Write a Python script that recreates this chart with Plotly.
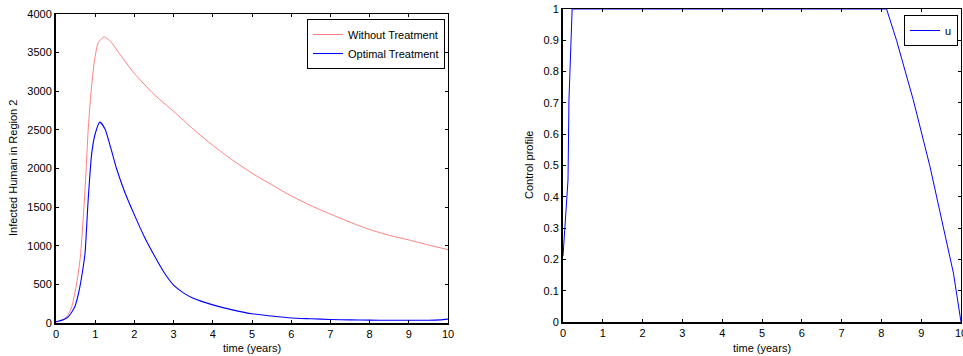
import plotly.graph_objects as go

# ---- data ----
t_without = [0, 0.1, 0.23, 0.31, 0.4, 0.53, 0.62, 0.7, 0.76, 0.82, 0.89, 0.98, 1.08, 1.23, 1.4, 1.6, 2.0, 2.5, 3.0, 3.5, 4.0, 4.5, 5.0, 5.5, 6.0, 6.5, 7.0, 7.5, 8.0, 8.5, 9.0, 9.5, 10]
i_without = [15, 25, 57, 110, 207, 520, 850, 1400, 1900, 2490, 2964, 3394, 3630, 3704, 3640, 3500, 3230, 2960, 2740, 2510, 2300, 2110, 1940, 1790, 1645, 1520, 1410, 1305, 1210, 1135, 1075, 1010, 950]

t_optimal = [0, 0.2, 0.31, 0.4, 0.48, 0.55, 0.61, 0.68, 0.74, 0.82, 0.91, 1.0, 1.12, 1.25, 1.4, 1.55, 1.75, 2.0, 2.25, 2.5, 2.75, 3.0, 3.25, 3.5, 4.0, 4.5, 5.0, 5.5, 6.0, 6.5, 7.0, 7.5, 8.0, 8.5, 9.0, 9.5, 9.8, 10]
i_optimal = [15, 45, 80, 140, 210, 330, 470, 680, 900, 1590, 2190, 2450, 2600, 2510, 2260, 1990, 1700, 1400, 1120, 880, 660, 490, 390, 320, 235, 170, 120, 90, 65, 55, 45, 40, 37, 35, 35, 35, 40, 50]

t_control = [0, 0.04, 0.085, 0.126, 0.15, 0.2, 0.23, 1, 2, 3, 4, 5, 6, 7, 8, 8.13, 8.38, 8.8, 9.22, 9.55, 9.81, 10]
u_control = [0.21, 0.30, 0.40, 0.454, 0.71, 0.90, 1, 1, 1, 1, 1, 1, 1, 1, 1, 1, 0.90, 0.71, 0.497, 0.305, 0.156, 0]

x_ticks = list(range(0, 11))
y1_ticks = list(range(0, 4001, 500))
y2_ticks = [round(0.1 * k, 1) for k in range(11)]

W, H = 963, 356
FONT = dict(family="Arial, Liberation Sans, sans-serif", size=11, color="black")

# plot areas in pixels (left, right, top, bottom)
L1 = (56, 448, 14, 323)
L2 = (563, 961, 9, 322)


def xd(a, b):
    return [a / W, b / W]


def yd(top, bottom):
    return [(H - bottom) / H, (H - top) / H]


fig = go.Figure()
fig.add_trace(go.Scatter(x=t_without, y=i_without, mode="lines", name="Without Treatment",
                         line=dict(color="#ff8080", width=1, shape="spline", smoothing=0.6),
                         xaxis="x", yaxis="y", legend="legend"))
fig.add_trace(go.Scatter(x=t_optimal, y=i_optimal, mode="lines", name="Optimal Treatment",
                         line=dict(color="#0000ff", width=1.1, shape="spline", smoothing=0.6),
                         xaxis="x", yaxis="y", legend="legend"))
fig.add_trace(go.Scatter(x=t_control, y=u_control, mode="lines", name="u",
                         line=dict(color="#0000ff", width=1), xaxis="x2", yaxis="y2", legend="legend2"))
# dummy traces for the mirrored (top/right) box axes
fig.add_trace(go.Scatter(x=[None], y=[None], xaxis="x3", yaxis="y3", showlegend=False, hoverinfo="skip"))
fig.add_trace(go.Scatter(x=[None], y=[None], xaxis="x4", yaxis="y4", showlegend=False, hoverinfo="skip"))

base = dict(showgrid=False, zeroline=False, showline=True, linecolor="black", ticks="inside",
            ticklen=3, tickcolor="black", tickwidth=1, tickfont=FONT, automargin=False)

fig.update_layout(
    width=W, height=H, margin=dict(l=0, r=0, t=0, b=0, autoexpand=False),
    paper_bgcolor="white", plot_bgcolor="white", font=FONT,
    xaxis=dict(base, domain=xd(L1[0], L1[1]), range=[0, 10], tickvals=x_ticks, anchor="y", linewidth=2),
    yaxis=dict(base, domain=yd(L1[2], L1[3]), range=[0, 4000], tickvals=y1_ticks, anchor="x", linewidth=2),
    xaxis2=dict(base, domain=xd(L2[0], L2[1]), range=[0, 10], tickvals=x_ticks, anchor="y2", linewidth=2,
                ticklabeloverflow="allow"),
    yaxis2=dict(base, domain=yd(L2[2], L2[3]), range=[0, 1], tickvals=y2_ticks, anchor="x2", linewidth=2),
    xaxis3=dict(base, overlaying="x", side="top", anchor="y3", range=[0, 10], tickvals=x_ticks,
                showticklabels=False, linewidth=1),
    yaxis3=dict(base, overlaying="y", side="right", anchor="x3", range=[0, 4000], tickvals=y1_ticks,
                showticklabels=False, linewidth=1),
    xaxis4=dict(base, overlaying="x2", side="top", anchor="y4", range=[0, 10], tickvals=x_ticks,
                showticklabels=False, linewidth=1),
    yaxis4=dict(base, overlaying="y2", side="right", anchor="x4", range=[0, 1], tickvals=y2_ticks,
                showticklabels=False, linewidth=1),
    legend=dict(x=445 / W, y=(H - 19) / H, xanchor="right", yanchor="top", bgcolor="white",
                bordercolor="black", borderwidth=1, font=FONT, tracegroupgap=0),
    legend2=dict(x=958 / W, y=(H - 15) / H, xanchor="right", yanchor="top", bgcolor="white",
                 bordercolor="black", borderwidth=1, font=FONT),
    showlegend=True,
)

annots = [
    dict(text="time (years)", x=(L1[0] + L1[1]) / 2 / W, y=(H - 348) / H, xref="paper", yref="paper",
         showarrow=False, xanchor="center", yanchor="middle", font=FONT),
    dict(text="time (years)", x=(L2[0] + L2[1]) / 2 / W, y=(H - 348) / H, xref="paper", yref="paper",
         showarrow=False, xanchor="center", yanchor="middle", font=FONT),
    dict(text="Infected Human in Region 2", x=13 / W, y=(H - 168) / H, xref="paper", yref="paper",
         showarrow=False, xanchor="center", yanchor="middle", textangle=-90, font=FONT),
    dict(text="Control profile", x=529 / W, y=(H - 165) / H, xref="paper", yref="paper",
         showarrow=False, xanchor="center", yanchor="middle", textangle=-90, font=FONT),
]
fig.update_layout(annotations=annots)

fig.write_html("out.html", config={"displayModeBar": False},
               post_script="document.body.style.margin='0';document.body.style.padding='0';"
                           "document.body.style.overflow='hidden';")
